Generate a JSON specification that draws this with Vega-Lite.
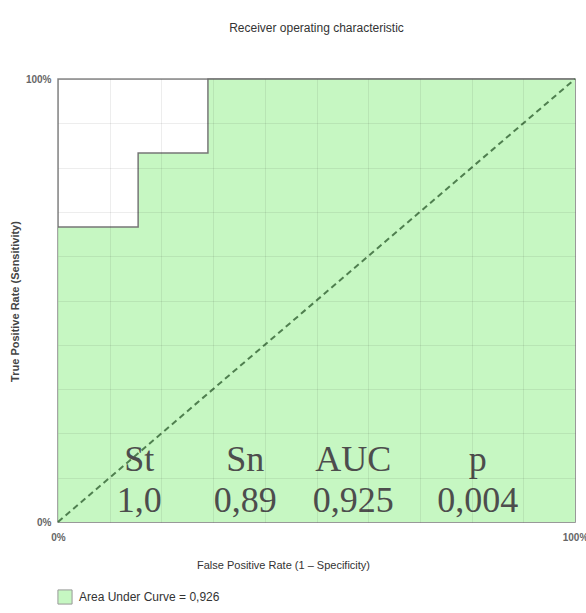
{
  "$schema": "https://vega.github.io/schema/vega-lite/v6.json",
  "autosize": "none",
  "width": 517,
  "height": 443,
  "padding": {"left": 58, "top": 79, "right": 11, "bottom": 91},
  "background": "white",
  "title": {
    "text": "Receiver operating characteristic",
    "fontSize": 12,
    "fontWeight": "normal",
    "color": "#333",
    "font": "Liberation Sans",
    "offset": 39,
    "anchor": "middle"
  },
  "config": {
    "view": {"stroke": "#888", "strokeWidth": 1.5},
    "font": "Liberation Sans"
  },
  "datasets": {
    "roc": [
      {"fpr": 0, "tpr": 0.666, "series": "Area Under Curve = 0,926"},
      {"fpr": 0.155, "tpr": 0.833, "series": "Area Under Curve = 0,926"},
      {"fpr": 0.29, "tpr": 1, "series": "Area Under Curve = 0,926"},
      {"fpr": 1, "tpr": 1, "series": "Area Under Curve = 0,926"}
    ],
    "diag": [
      {"fpr": 0, "tpr": 0},
      {"fpr": 1, "tpr": 1}
    ],
    "notes": [
      {"fpr": 0.157, "tpr": 0.115, "text": "St"},
      {"fpr": 0.362, "tpr": 0.115, "text": "Sn"},
      {"fpr": 0.571, "tpr": 0.115, "text": "AUC"},
      {"fpr": 0.812, "tpr": 0.115, "text": "p"},
      {"fpr": 0.157, "tpr": 0.023, "text": "1,0"},
      {"fpr": 0.362, "tpr": 0.023, "text": "0,89"},
      {"fpr": 0.571, "tpr": 0.023, "text": "0,925"},
      {"fpr": 0.812, "tpr": 0.023, "text": "0,004"}
    ]
  },
  "layer": [
    {
      "data": {"name": "roc"},
      "mark": {"type": "area", "interpolate": "step-after"},
      "encoding": {
        "x": {
          "field": "fpr", "type": "quantitative",
          "scale": {"domain": [0, 1], "nice": false},
          "axis": {
            "values": [0, 0.1, 0.2, 0.3, 0.4, 0.5, 0.6, 0.7, 0.8, 0.9, 1],
            "labelExpr": "datum.value == 0 ? '0%' : (datum.value == 1 ? '100%' : '')",
            "ticks": false,
            "domain": false,
            "grid": true,
            "gridColor": "#000",
            "gridOpacity": 0.07,
            "zindex": 1,
            "labelFontSize": 10,
            "labelFontWeight": "bold",
            "labelColor": "#666",
            "labelPadding": 10,
            "labelFlush": false,
            "title": "False Positive Rate (1 \u2013 Specificity)",
            "titleFontSize": 11,
            "titleFontWeight": "normal",
            "titleColor": "#333",
            "titleX": 225,
            "titleY": 37
          }
        },
        "y": {
          "field": "tpr", "type": "quantitative",
          "scale": {"domain": [0, 1], "nice": false},
          "axis": {
            "values": [0, 0.1, 0.2, 0.3, 0.4, 0.5, 0.6, 0.7, 0.8, 0.9, 1],
            "labelExpr": "datum.value == 0 ? '0%' : (datum.value == 1 ? '100%' : '')",
            "ticks": false,
            "domain": false,
            "grid": true,
            "gridColor": "#000",
            "gridOpacity": 0.07,
            "zindex": 1,
            "labelFontSize": 10,
            "labelFontWeight": "bold",
            "labelColor": "#666",
            "labelPadding": 7,
            "labelFlush": false,
            "title": "True Positive Rate (Sensitivity)",
            "titleFontSize": 11,
            "titleFontWeight": "bold",
            "titleColor": "#444",
            "titleX": -38,
            "titleY": 222
          }
        },
        "color": {
          "field": "series", "type": "nominal",
          "scale": {"range": ["#c6f7c2"]},
          "legend": {
            "title": null,
            "orient": "none",
            "legendX": -1,
            "legendY": 510,
            "symbolType": "square",
            "symbolSize": 200,
            "symbolStrokeColor": "#999",
            "symbolStrokeWidth": 1,
            "symbolOpacity": 1,
            "labelFontSize": 12,
            "labelColor": "#333",
            "labelOffset": 6
          }
        }
      }
    },
    {
      "data": {"name": "roc"},
      "mark": {"type": "line", "interpolate": "step-after", "color": "#777", "strokeWidth": 1.5},
      "encoding": {
        "x": {"field": "fpr", "type": "quantitative"},
        "y": {"field": "tpr", "type": "quantitative"}
      }
    },
    {
      "data": {"name": "diag"},
      "mark": {"type": "line", "color": "#4f7f4f", "strokeWidth": 2, "strokeDash": [6, 4]},
      "encoding": {
        "x": {"field": "fpr", "type": "quantitative"},
        "y": {"field": "tpr", "type": "quantitative"}
      }
    },
    {
      "data": {"name": "notes"},
      "mark": {"type": "text", "font": "Liberation Serif", "fontSize": 36, "color": "#4d4d4d", "align": "center", "baseline": "alphabetic"},
      "encoding": {
        "x": {"field": "fpr", "type": "quantitative"},
        "y": {"field": "tpr", "type": "quantitative"},
        "text": {"field": "text", "type": "nominal"}
      }
    }
  ]
}
